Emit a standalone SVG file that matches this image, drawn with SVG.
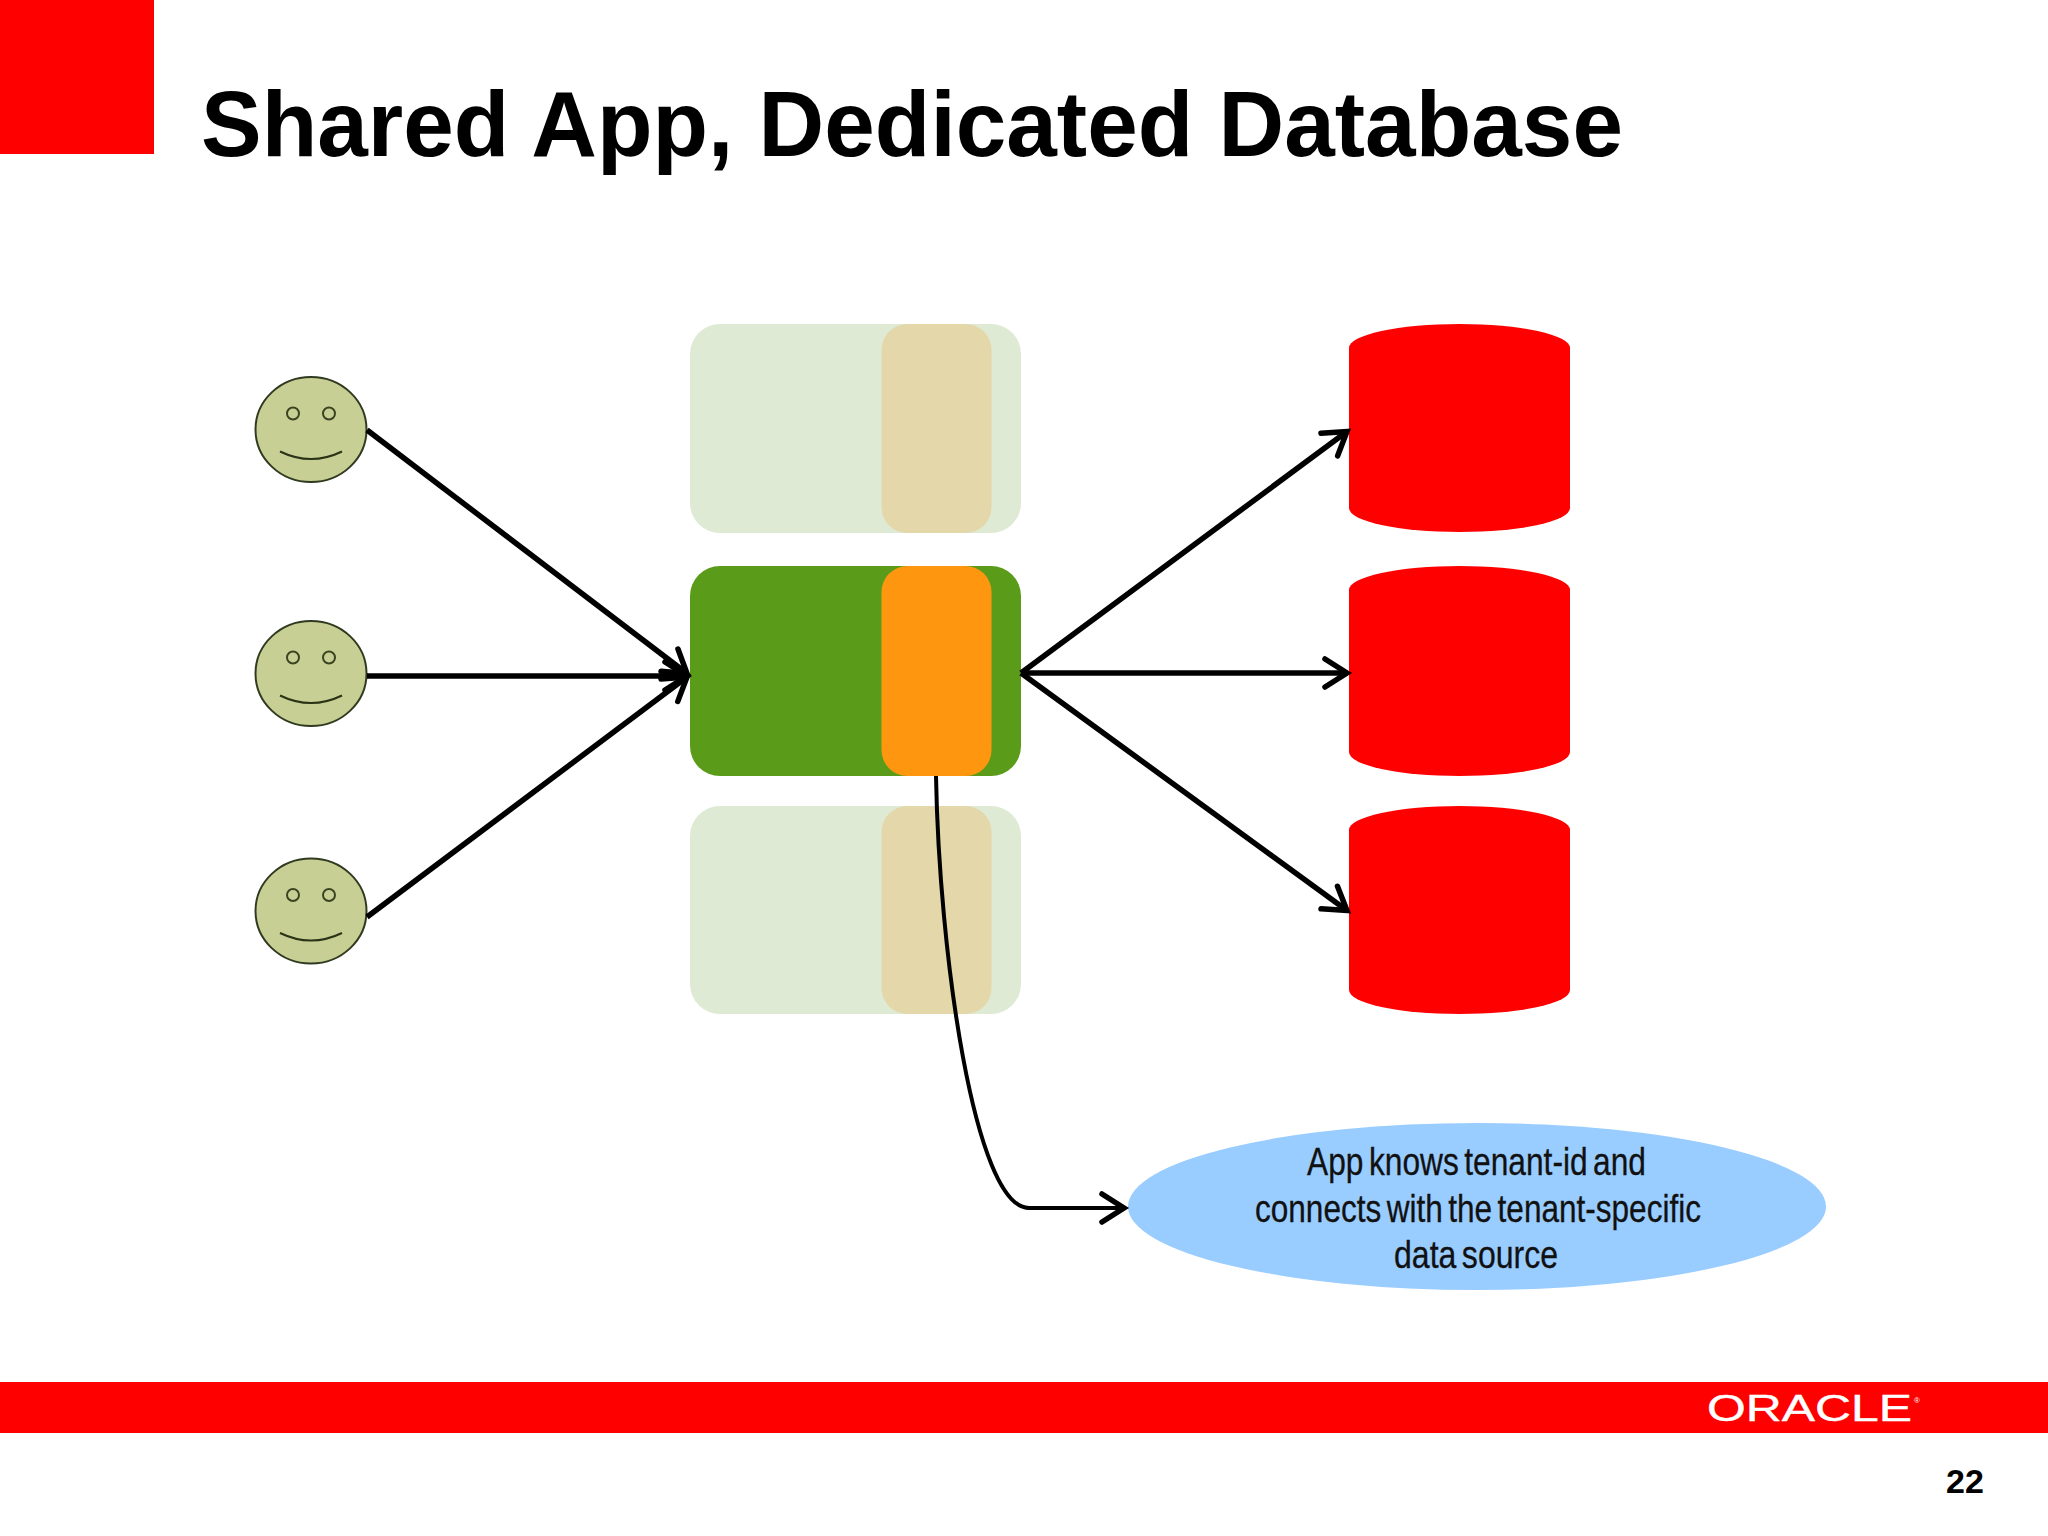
<svg xmlns="http://www.w3.org/2000/svg" width="2048" height="1536" viewBox="0 0 2048 1536">
<style>
.sans{font-family:"Liberation Sans",Arial,sans-serif}
.face{fill:#C8CF94;stroke:#2f3a20;stroke-width:2}
.eye{fill:none;stroke:#3a4420;stroke-width:2}
.smile{fill:none;stroke:#2a3315;stroke-width:2}
.db{fill:#FF0000}
.lbl{font-size:38px;fill:#111;stroke:#111;stroke-width:.3;word-spacing:-4px}
.conn{fill:none;stroke:#000;stroke-width:5.500;marker-end:url(#open)}
</style>
<defs>
<marker id="open" markerUnits="userSpaceOnUse" markerWidth="40" markerHeight="40" refX="26" refY="20" orient="auto" overflow="visible">
<path d="M4,6 L26,20 L4,34" fill="none" stroke="#000" stroke-width="5.500" stroke-linecap="round" stroke-linejoin="miter"/>
</marker>
<g id="smiley">
<ellipse class="face" cx="0" cy="0" rx="55.5" ry="52.5"/>
<circle class="eye" cx="-18" cy="-16" r="6"/>
<circle class="eye" cx="18" cy="-16" r="6"/>
<path class="smile" d="M-31,22 Q0,37 31,22"/>
</g>
</defs>
<rect width="2048" height="1536" fill="#fff"/>
<g id="header">
<rect x="0" y="0" width="154" height="154" fill="#FF0000"/>
<text class="sans" x="201" y="156" font-size="92" font-weight="700" fill="#000" textLength="1422" lengthAdjust="spacingAndGlyphs">Shared App, Dedicated Database</text>
</g>
<g id="user-1"><use href="#smiley" x="311" y="429.5"/></g>
<g id="user-2"><use href="#smiley" x="311" y="673.5"/></g>
<g id="user-3"><use href="#smiley" x="311" y="911"/></g>
<g id="app-top">
<rect x="690" y="324" width="331" height="209" rx="30" fill="#DFEAD4"/>
<rect x="881.500" y="324" width="110" height="209" rx="26" fill="#E4D7A9"/>
</g>
<g id="app-middle">
<rect x="690" y="566" width="331" height="210" rx="30" fill="#5A9C19"/>
<rect x="881.500" y="566" width="110" height="210" rx="26" fill="#FF9610"/>
</g>
<g id="app-bottom">
<rect x="690" y="806" width="331" height="208" rx="30" fill="#DFEAD4"/>
<rect x="881.500" y="806" width="110" height="208" rx="26" fill="#E4D7A9"/>
</g>
<g id="db-1"><path class="db" d="M1349,348 A110.500,24 0 0 1 1570,348 V508 A110.500,24 0 0 1 1349,508 Z"/></g>
<g id="db-2"><path class="db" d="M1349,590 A110.500,24 0 0 1 1570,590 V752 A110.500,24 0 0 1 1349,752 Z"/></g>
<g id="db-3"><path class="db" d="M1349,830 A110.500,24 0 0 1 1570,830 V990 A110.500,24 0 0 1 1349,990 Z"/></g>
<g id="note">
<ellipse cx="1477" cy="1206.500" rx="349" ry="83.500" fill="#99CCFF"/>
<text class="sans lbl" x="1307" y="1175" textLength="339" lengthAdjust="spacingAndGlyphs">App knows tenant-id and</text>
<text class="sans lbl" x="1255" y="1222" textLength="446" lengthAdjust="spacingAndGlyphs">connects with the tenant-specific</text>
<text class="sans lbl" x="1394" y="1268" textLength="164" lengthAdjust="spacingAndGlyphs">data source</text>
</g>
<g id="connectors">
<line class="conn" x1="367" y1="430" x2="687" y2="673.500"/>
<line class="conn" x1="367" y1="676" x2="687" y2="676"/>
<line class="conn" x1="367" y1="917" x2="687" y2="677"/>
<line class="conn" x1="1021" y1="673" x2="1347" y2="431.500"/>
<line class="conn" x1="1021" y1="673" x2="1347" y2="673"/>
<line class="conn" x1="1021" y1="673" x2="1347" y2="910.500"/>
<path class="conn" style="stroke-width:4" d="M936,776 C939,950 974,1208 1029,1208 L1124,1208"/>
</g>
<g id="footer">
<rect x="0" y="1382" width="2048" height="51" fill="#FF0000"/>
<text class="sans" x="1707" y="1421" font-size="36" fill="#fff" stroke="#fff" stroke-width=".4" textLength="205" lengthAdjust="spacingAndGlyphs">ORACLE</text>
<text class="sans" x="1914" y="1403" font-size="8" fill="#fff">®</text>
<text class="sans" x="1946" y="1493" font-size="34" font-weight="700" fill="#000">22</text>
</g>
</svg>
